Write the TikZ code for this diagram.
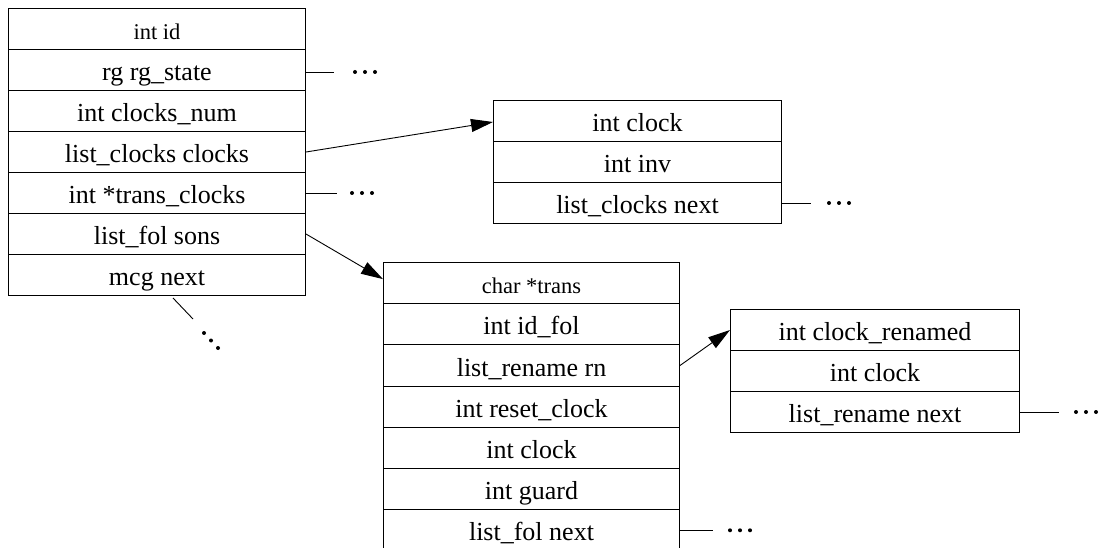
\documentclass[tikz,border=0pt]{standalone}
\usepackage{fontspec}
\setmainfont{Liberation Serif}
\usetikzlibrary{arrows.meta}
\begin{document}
\begin{tikzpicture}[x=1pt,y=-1pt,
  fld/.style={draw=black,line width=1pt,inner sep=0pt,anchor=north west,text height=21pt,text depth=0pt,font=\fontsize{26}{30}\selectfont},
  sfld/.style={fld,font=\fontsize{22.5}{27}\selectfont},
  wa/.style={minimum width=297pt,minimum height=41pt},
  wb/.style={minimum width=288pt,minimum height=41pt},
  wc/.style={minimum width=296pt,minimum height=41.2pt},
  wd/.style={minimum width=289pt,minimum height=41pt},
  ptr/.style={line width=0.9pt,-{Triangle[length=22pt,width=13pt]}},
  lnk/.style={line width=0.9pt},
  ell/.pic={\fill (0,0) circle[radius=2pt] (10,0) circle[radius=2pt] (20,0) circle[radius=2pt];}]
\useasboundingbox (0,0) rectangle (1101,548);
\clip (0,0) rectangle (1101,548);

% structure 1
\node[sfld,wa] (a1) at (8,8)   {int id};
\node[fld,wa]  (a2) at (8,49)  {rg rg\_state};
\node[fld,wa]  (a3) at (8,90)  {int clocks\_num};
\node[fld,wa]  (a4) at (8,131) {list\_clocks clocks};
\node[fld,wa]  (a5) at (8,172) {int *trans\_clocks};
\node[fld,wa]  (a6) at (8,213) {list\_fol sons};
\node[fld,wa]  (a7) at (8,254) {mcg next};

% structure 2
\node[fld,wb] (b1) at (493,100) {int clock};
\node[fld,wb] (b2) at (493,141) {int inv};
\node[fld,wb] (b3) at (493,182) {list\_clocks next};

% structure 3
\node[sfld,wc] (c1) at (383,262)   {char *trans};
\node[fld,wc]  (c2) at (383,303.2) {int id\_fol};
\node[fld,wc]  (c3) at (383,344.4) {list\_rename rn};
\node[fld,wc]  (c4) at (383,385.6) {int reset\_clock};
\node[fld,wc]  (c5) at (383,426.8) {int clock};
\node[fld,wc]  (c6) at (383,468)   {int guard};
\node[fld,wc]  (c7) at (383,509.2) {list\_fol next};

% structure 4
\node[fld,wd] (d1) at (730,309) {int clock\_renamed};
\node[fld,wd] (d2) at (730,350) {int clock};
\node[fld,wd] (d3) at (730,391) {list\_rename next};

% pointers
\draw[ptr] (a4.east) -- ([yshift=-1pt]b1.west);
\draw[ptr] (a6.east) -- ([yshift=4pt]c1.west);
\draw[ptr] (c3.east) -- (d1.west);

% dangling links
\draw[lnk] ([yshift=-2pt]a2.east) -- ++(28,0) coordinate (e2);
\pic at ([xshift=21pt]e2) {ell};
\draw[lnk] (a5.east) -- ++(31,0) coordinate (e5);
\pic at ([xshift=15pt]e5) {ell};
\draw[lnk] (b3.east) -- ++(29,0) coordinate (eb);
\pic at ([xshift=18pt]eb) {ell};
\draw[lnk] (d3.east) -- ++(39,0) coordinate (ed);
\pic at ([xshift=17pt]ed) {ell};
\draw[lnk] (c7.east) -- ++(33,0) coordinate (ec);
\pic at ([xshift=17pt]ec) {ell};

% mcg next continuation
\draw[lnk] ([xshift=16pt,yshift=-2pt]a7.south) -- ++(20,21) coordinate (em);
\fill (204,333) circle[radius=2pt] (211,340.5) circle[radius=2pt] (218,348) circle[radius=2pt];
\end{tikzpicture}
\end{document}
